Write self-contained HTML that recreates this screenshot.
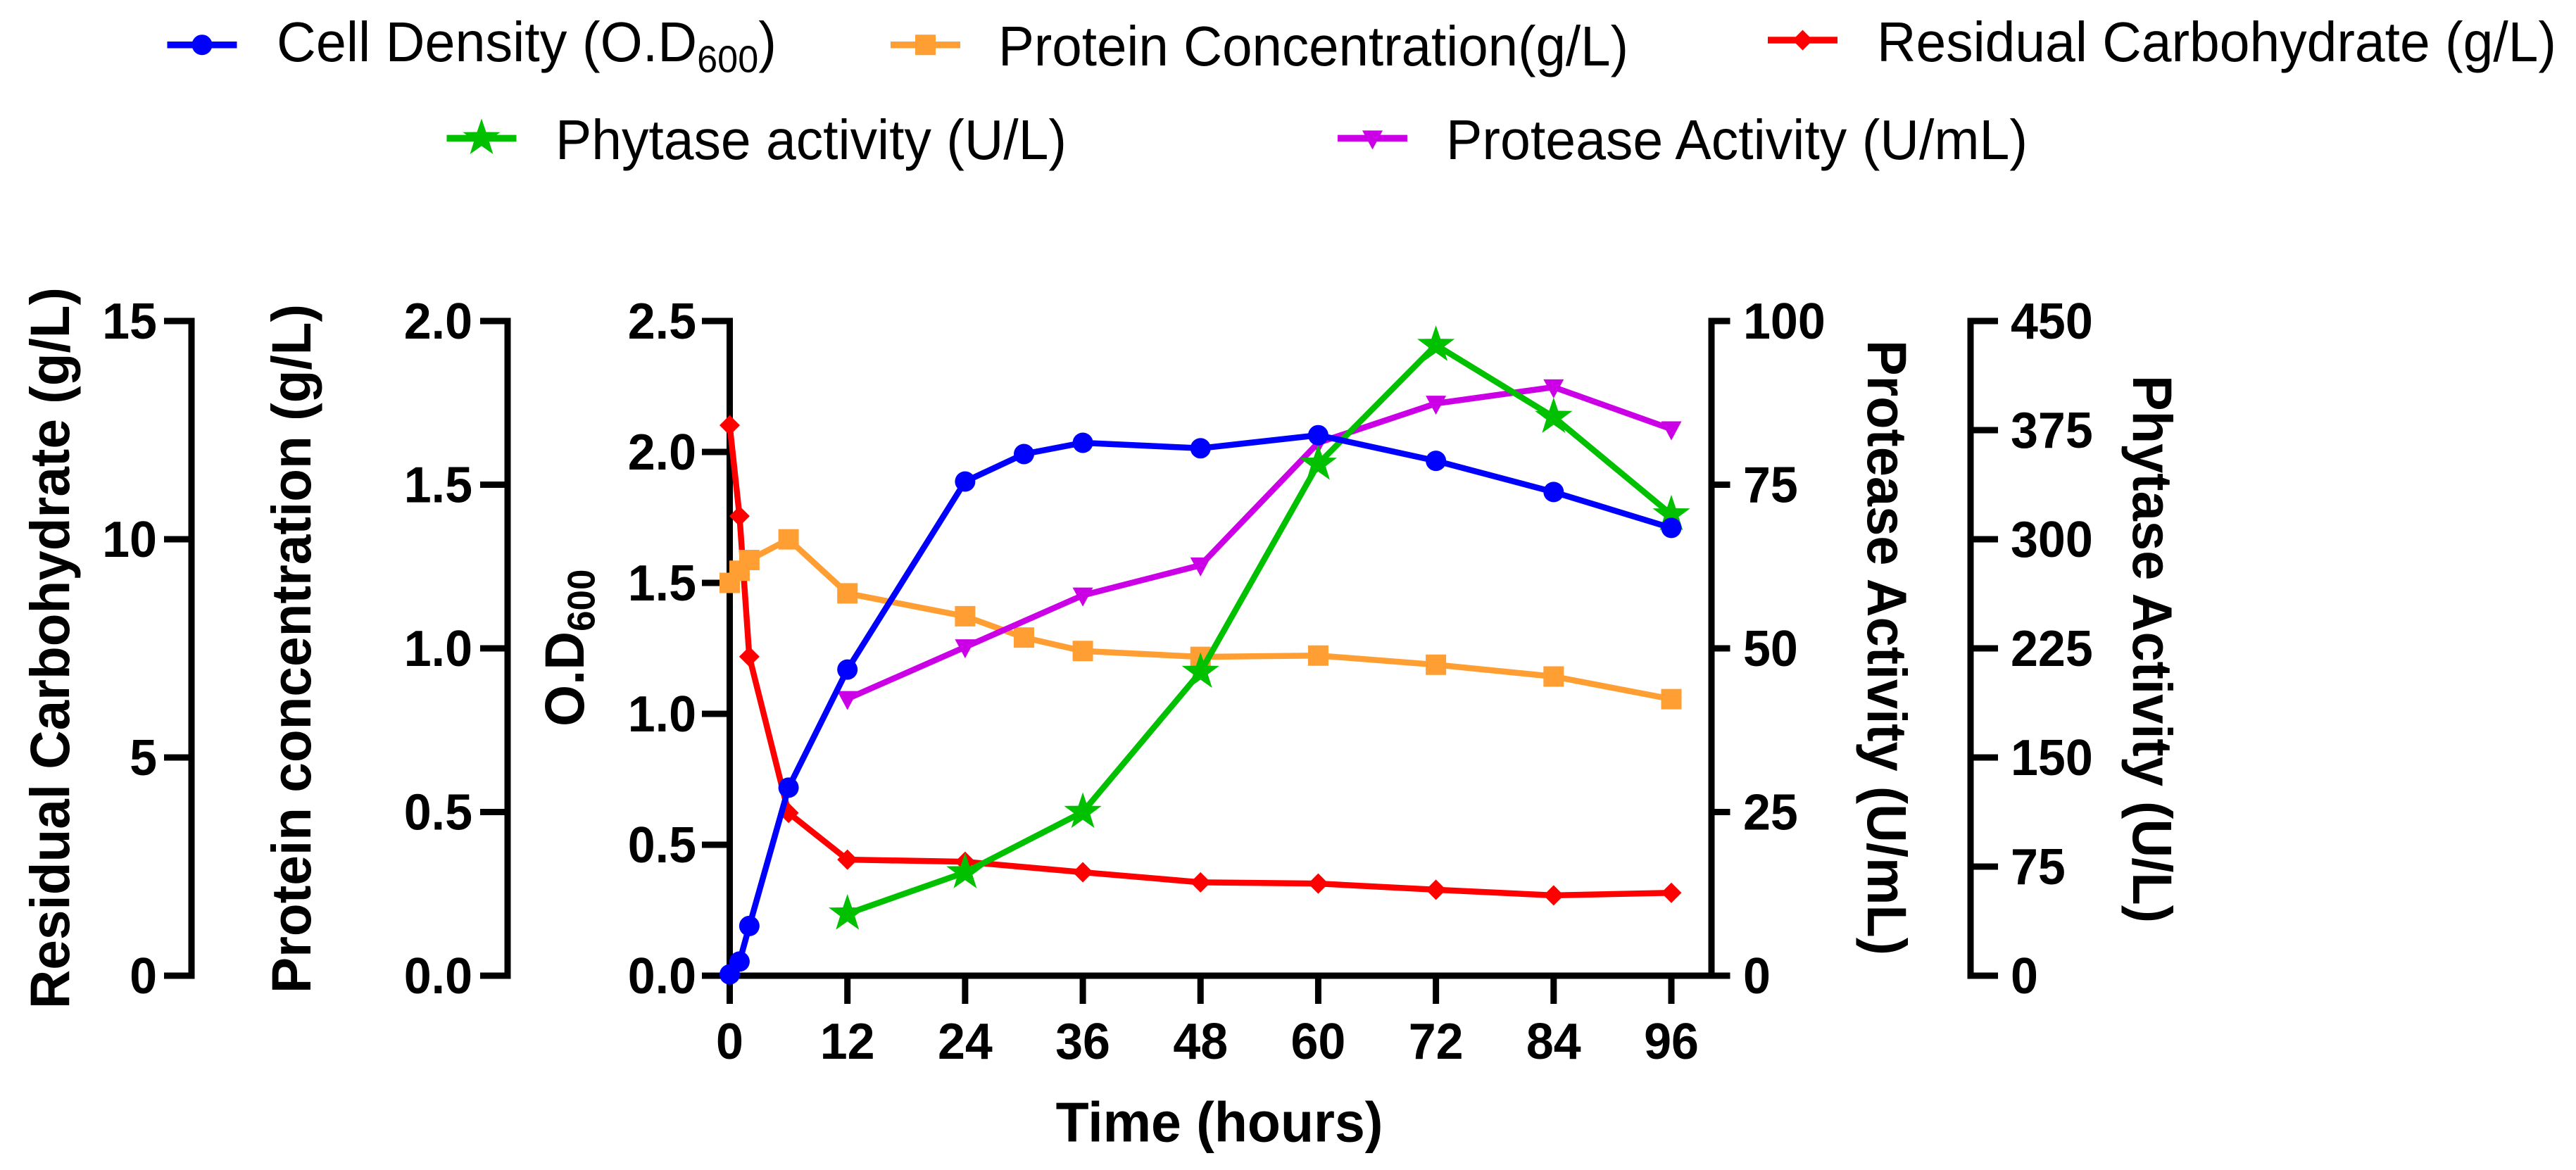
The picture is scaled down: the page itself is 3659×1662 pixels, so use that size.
<!DOCTYPE html>
<html lang="en">
<head>
<meta charset="utf-8">
<title>Fermentation time course</title>
<style>
html,body{margin:0;padding:0;background:#fff}
svg{display:block}
text{font-family:"Liberation Sans",Arial,sans-serif;fill:#000}
.b{font-weight:700}
</style>
</head>
<body>
<svg id="chart" xmlns="http://www.w3.org/2000/svg" width="3659" height="1662" viewBox="0 0 3659 1662">
<rect width="3659" height="1662" fill="#fff"/>
<g id="legend" font-size="77">
<g id="lg-od"><text transform="translate(393,87) scale(1,1.04)" textLength="710" lengthAdjust="spacingAndGlyphs">Cell Density (O.D<tspan font-size="52" dy="15">600</tspan><tspan dy="-15">)</tspan></text></g>
<g id="lg-protein"><text transform="translate(1418,93) scale(1,1.04)" textLength="895" lengthAdjust="spacingAndGlyphs">Protein Concentration(g/L)</text></g>
<g id="lg-carb"><text transform="translate(2666,87) scale(1,1.04)" textLength="965" lengthAdjust="spacingAndGlyphs">Residual Carbohydrate (g/L)</text></g>
<g id="lg-phytase"><text transform="translate(789,226) scale(1,1.04)" textLength="726" lengthAdjust="spacingAndGlyphs">Phytase activity (U/L)</text></g>
<g id="lg-protease"><text transform="translate(2054,226) scale(1,1.04)" textLength="826" lengthAdjust="spacingAndGlyphs">Protease Activity (U/mL)</text></g>
</g>
<g id="axes"></g>
<g id="series"></g>
<g class="b">
<text transform="translate(1732,1621.5) scale(1,1.04)" font-size="77" text-anchor="middle">Time (hours)</text>
<text transform="translate(98,1433) rotate(-90) scale(1,1.04)" font-size="76" textLength="1025" lengthAdjust="spacingAndGlyphs">Residual Carbohydrate (g/L)</text>
<text transform="translate(441,1411) rotate(-90) scale(1,1.04)" font-size="76" textLength="979" lengthAdjust="spacingAndGlyphs">Protein concentration (g/L)</text>
<text transform="translate(829,1032) rotate(-90) scale(1,1.04)" font-size="76">O.D<tspan font-size="53" dy="15">600</tspan></text>
<text transform="translate(2653,483) rotate(90) scale(1,1.04)" font-size="76" textLength="874" lengthAdjust="spacingAndGlyphs">Protease Activity (U/mL)</text>
<text transform="translate(3030,533) rotate(90) scale(1,1.04)" font-size="76" textLength="778" lengthAdjust="spacingAndGlyphs">Phytase Activity (U/L)</text>
</g>
</svg>
<script>
// ---- chart data ----
const xTicks = [0, 12, 24, 36, 48, 60, 72, 84, 96];
const carbTicks = ['0', '5', '10', '15'];
const proteinTicks = ['0.0', '0.5', '1.0', '1.5', '2.0'];
const odTicks = ['0.0', '0.5', '1.0', '1.5', '2.0', '2.5'];
const proteaseTicks = ['0', '25', '50', '75', '100'];
const phytaseTicks = ['0', '75', '150', '225', '300', '375', '450'];

const odHours = [0, 1, 2, 6, 12, 24, 30, 36, 48, 60, 72, 84, 96];
const odValues = [0.005, 0.054, 0.19, 0.718, 1.169, 1.887, 1.992, 2.035, 2.014, 2.064, 1.966, 1.847, 1.71];
const proteinHours = [0, 1, 2, 6, 12, 24, 30, 36, 48, 60, 72, 84, 96];
const proteinValues = [1.2, 1.237, 1.27, 1.333, 1.168, 1.098, 1.033, 0.992, 0.974, 0.978, 0.95, 0.914, 0.845];
const carbHours = [0, 1, 2, 6, 12, 24, 36, 48, 60, 72, 84, 96];
const carbValues = [12.61, 10.53, 7.31, 3.73, 2.66, 2.61, 2.37, 2.14, 2.11, 1.97, 1.84, 1.9];
const phytaseHours = [12, 24, 36, 48, 60, 72, 84, 96];
const phytaseValues = [42.6, 71, 112.5, 208.8, 351.8, 433.5, 384, 317];
const proteaseHours = [12, 24, 36, 48, 60, 72, 84, 96];
const proteaseValues = [42.3, 50.2, 58.1, 62.7, 81.4, 87.4, 89.9, 83.5];

// ---- axis functions ----
const NS = 'http://www.w3.org/2000/svg';
const plotX0 = 1036.5, plotX1 = 2374, plotTop = 456, plotBottom = 1386;
function xAt(h) { return plotX0 + (h / 96) * (plotX1 - plotX0); }
function yAt(v, max) { return plotBottom - (v / max) * (plotBottom - plotTop); }

const axes = document.getElementById('axes');
const seriesRoot = document.getElementById('series');

function seg(parent, name, x1, y1, x2, y2, color, width) {
  const l = document.createElementNS(NS, 'line');
  l.setAttribute('x1', x1);
  l.setAttribute('y1', y1);
  l.setAttribute('x2', x2);
  l.setAttribute('y2', y2);
  l.setAttribute('stroke', color);
  l.setAttribute('stroke-width', width);
  
  
  parent.appendChild(l);
  return l;
}
function label(parent, name, x, y, str, anchor) {
  const t = document.createElementNS(NS, 'text');
  t.setAttribute('transform', 'translate(' + x + ',' + y + ') scale(1,1.04)');
  t.setAttribute('font-size', '70');
  t.setAttribute('font-weight', '700');
  t.setAttribute('text-anchor', anchor);
  
  
  t.textContent = str;
  parent.appendChild(t);
}
function yAxis(name, ticks, stemX, tickX0, tickX1, labelX, anchor) {
  const g = document.createElementNS(NS, 'g');
  
  
  axes.appendChild(g);
  seg(g, name + '-line', stemX, plotTop - 4.5, stemX, plotBottom + 4.5, '#000', 9);
  const max = parseFloat(ticks[ticks.length - 1]);
  ticks.forEach(function (tk) {
    const y = yAt(parseFloat(tk), max);
    seg(g, name + '-tick', tickX0, y, tickX1, y, '#000', 9);
    label(g, name + '-tick-label', labelX, y + 25, tk, anchor);
  });
}
yAxis('carbohydrate-axis', carbTicks, 272, 233, 276.5, 223, 'end');
yAxis('protein-axis', proteinTicks, 721, 682, 725.5, 671, 'end');
yAxis('od-axis', odTicks, plotX0, 997, plotX0 + 4.5, 989, 'end');
yAxis('protease-axis', proteaseTicks, 2431, 2426.5, 2457.5, 2476, 'start');
yAxis('phytase-axis', phytaseTicks, 2799, 2794.5, 2838, 2856, 'start');

const xAxisGroup = document.createElementNS(NS, 'g');


axes.appendChild(xAxisGroup);
seg(xAxisGroup, 'x-axis-line', plotX0 - 4.5, plotBottom, 2435, plotBottom, '#000', 9);
xTicks.forEach(function (h) {
  seg(xAxisGroup, 'x-axis-tick', xAt(h), plotBottom, xAt(h), 1426, '#000', 9);
  label(xAxisGroup, 'x-axis-tick-label', xAt(h), 1504, String(h), 'middle');
});

// ---- marker shapes ----
function marker(parent, name, shape, cx, cy, color) {
  let el;
  if (shape === 'circle') {
    el = document.createElementNS(NS, 'circle');
    el.setAttribute('cx', cx);
    el.setAttribute('cy', cy);
    el.setAttribute('r', 14.5);
  } else {
    el = document.createElementNS(NS, 'polygon');
    let pts = [];
    if (shape === 'square') pts = [[-14.5, -14.5], [14.5, -14.5], [14.5, 14.5], [-14.5, 14.5]];
    if (shape === 'diamond') pts = [[0, -14.5], [14.5, 0], [0, 14.5], [-14.5, 0]];
    if (shape === 'triangle') pts = [[-14.5, -11], [14.5, -11], [0, 16]];
    if (shape === 'star') {
      for (let i = 0; i < 10; i++) {
        const r = i % 2 === 0 ? 28 : 11;
        const a = -Math.PI / 2 + i * Math.PI / 5;
        pts.push([r * Math.cos(a), r * Math.sin(a)]);
      }
    }
    el.setAttribute('points', pts.map(function (p) { return (cx + p[0]) + ',' + (cy + p[1]); }).join(' '));
  }
  el.setAttribute('fill', color);
  
  
  parent.appendChild(el);
}

// ---- series (bottom to top) ----
function drawSeries(name, hours, values, max, color, shape) {
  const g = document.createElementNS(NS, 'g');
  
  
  seriesRoot.appendChild(g);
  const pl = document.createElementNS(NS, 'polyline');
  pl.setAttribute('points', hours.map(function (h, i) { return xAt(h) + ',' + yAt(values[i], max); }).join(' '));
  pl.setAttribute('fill', 'none');
  pl.setAttribute('stroke', color);
  pl.setAttribute('stroke-width', '8.5');
  pl.setAttribute('stroke-linejoin', 'miter');
  
  
  g.appendChild(pl);
  hours.forEach(function (h, i) {
    marker(g, name + '-point', shape, xAt(h), yAt(values[i], max), color);
  });
}
drawSeries('carbohydrate', carbHours, carbValues, 15, '#ff0000', 'diamond');
drawSeries('protein', proteinHours, proteinValues, 2, '#ff9f33', 'square');
drawSeries('protease', proteaseHours, proteaseValues, 100, '#cc00e6', 'triangle');
drawSeries('phytase', phytaseHours, phytaseValues, 450, '#00c000', 'star');
drawSeries('od', odHours, odValues, 2.5, '#0000ff', 'circle');

// ---- legend keys ----
function legendKey(groupId, name, x0, cy, color, shape) {
  const g = document.getElementById(groupId);
  seg(g, name + '-key-line', x0, cy, x0 + 99, cy, color, 9.5);
  marker(g, name + '-key-marker', shape, x0 + 49.5, cy, color);
}
legendKey('lg-od', 'cell-density', 237.5, 63.7, '#0000ff', 'circle');
legendKey('lg-protein', 'protein', 1265, 63.7, '#ff9f33', 'square');
legendKey('lg-carb', 'carbohydrate', 2511, 57, '#ff0000', 'diamond');
legendKey('lg-phytase', 'phytase', 634.5, 196.4, '#00c000', 'star');
legendKey('lg-protease', 'protease', 1900, 196.4, '#cc00e6', 'triangle');
</script>
</body>
</html>
